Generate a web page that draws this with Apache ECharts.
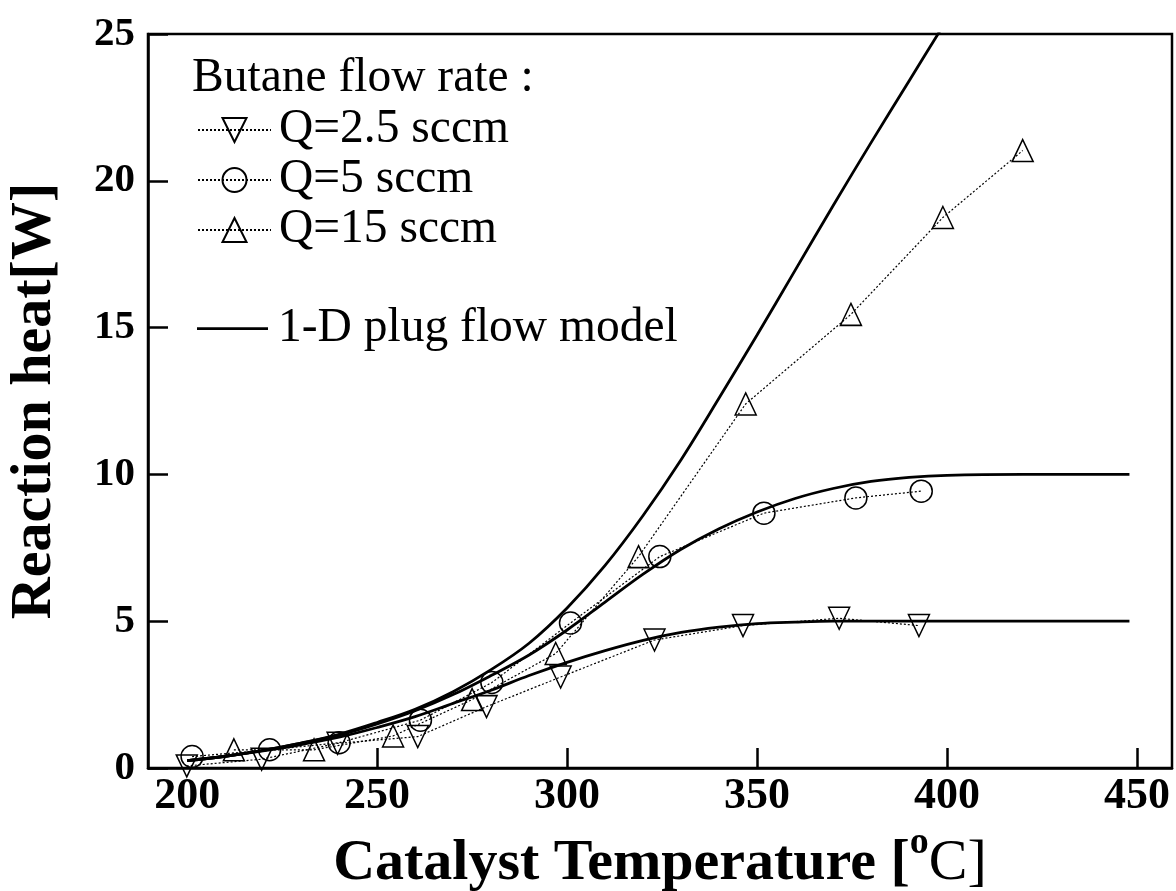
<!DOCTYPE html>
<html><head><meta charset="utf-8">
<script src="https://cdn.jsdelivr.net/npm/echarts@6/dist/echarts.min.js"></script>
<style>html,body{margin:0;padding:0;background:#fff}#c{width:1176px;height:891px}</style>
</head><body><div id="c"></div>
<script>
// Measured data (Catalyst temperature [°C] vs reaction heat [W])
const tempQ25 = [199.9, 219.6, 239.6, 260.7, 278.8, 298.3, 323.0, 346.3, 371.6, 392.6];
const heatQ25 = [0.07, 0.30, 0.84, 1.07, 2.09, 3.10, 4.36, 4.85, 5.10, 4.85];
const tempQ5 = [201.3, 221.7, 240.0, 261.4, 280.2, 300.9, 324.4, 351.8, 376.0, 393.2];
const heatQ5 = [0.39, 0.62, 0.86, 1.63, 2.91, 4.94, 7.20, 8.68, 9.20, 9.43];
const tempQ15 = [212.3, 233.4, 254.2, 275.0, 297.0, 318.8, 347.0, 374.7, 398.9, 419.9];
const heatQ15 = [0.62, 0.62, 1.09, 2.33, 3.90, 7.20, 12.40, 15.45, 18.75, 21.03];
// 1-D plug flow model curves
const modelTemp15 = [200,210,220,230,240,250,260,270,280,290,300,310,320,330,340,350,360,370,380,390,400];
const model15 = [0.25,0.4,0.6,0.85,1.15,1.55,2.0,2.6,3.35,4.25,5.45,6.9,8.6,10.5,12.6,14.75,16.95,19.15,21.3,23.4,25.5];
const modelTemp = [200,210,220,230,240,250,260,270,280,290,300,310,320,330,340,350,360,370,380,390,400,420,448];
const model5 = [0.25,0.4,0.6,0.85,1.12,1.5,1.95,2.5,3.15,3.85,4.7,5.65,6.6,7.45,8.15,8.72,9.18,9.52,9.76,9.9,9.97,10.0,10.0];
const model25 = [0.25,0.4,0.58,0.8,1.05,1.38,1.75,2.2,2.65,3.15,3.6,4.0,4.35,4.62,4.8,4.92,4.97,5.0,5.0,5.0,5.0,5.0,5.0];
// Axis ticks
const xTickLabels = [200, 250, 300, 350, 400, 450];
const xTickMarks = [250, 300, 350, 400, 450];

const FONT = "'Liberation Serif', 'Times New Roman', serif";
const zip = (a, b) => a.map((v, i) => [v, b[i]]);

const dotted = {color: '#000', width: 1.2, type: [2, 2]};
const hollow = {color: 'rgba(0,0,0,0)', borderColor: '#000', borderWidth: 1.5};
const modelStyle = {color: '#000', width: 2.8, type: 'solid'};

function dataSeries(name, t, h, symbol, rotate) {
  return {
    name, type: 'line', data: zip(t, h), symbol, symbolRotate: rotate,
    symbolSize: symbol === 'circle' ? 22 : [21, 22],
    lineStyle: dotted, itemStyle: hollow, z: 3, animation: false
  };
}
function modelSeries(t, h) {
  return {
    name: '1-D plug flow model', type: 'line', data: zip(t, h),
    showSymbol: false, symbol: 'none', smooth: 0.35,
    lineStyle: modelStyle, itemStyle: {color: '#000'}, z: 2, animation: false
  };
}

const chart = echarts.init(document.getElementById('c'));
chart.setOption({
  backgroundColor: '#fff',
  animation: false,
  grid: {left: 148, right: 4, top: 34, bottom: 123, containLabel: false, outerBoundsMode: 'none',
         show: true, borderColor: '#000', borderWidth: 2.5, backgroundColor: 'transparent'},
  xAxis: {
    type: 'value', min: 189.7, max: 459.2,
    axisLine: {lineStyle: {color: '#000', width: 2.5}},
    axisTick: {inside: true, length: 20, lineStyle: {color: '#000', width: 2.5}, customValues: xTickMarks},
    axisLabel: {customValues: xTickLabels, color: '#000', fontFamily: FONT, fontWeight: 'bold', fontSize: 44, margin: 7},
    splitLine: {show: false},
    name: '{b|Catalyst Temperature [}{s|o}{c|C]}',
    nameLocation: 'middle', nameGap: 47,
    nameTextStyle: {
      rich: {
        b: {fontFamily: FONT, fontWeight: 'bold', fontSize: 58, color: '#000'},
        s: {fontFamily: FONT, fontWeight: 'bold', fontSize: 38, color: '#000', padding: [0, 0, 42, 0]},
        c: {fontFamily: FONT, fontWeight: 'normal', fontSize: 58, color: '#000'}
      }
    }
  },
  yAxis: {
    type: 'value', min: 0, max: 25, interval: 5,
    axisLine: {show: true, lineStyle: {color: '#000', width: 2.5}},
    axisTick: {show: true, inside: true, length: 20, lineStyle: {color: '#000', width: 2.5}},
    axisLabel: {color: '#000', fontFamily: FONT, fontWeight: 'bold', fontSize: 41, margin: 13},
    splitLine: {show: false},
    name: 'Reaction heat[W]', nameLocation: 'middle', nameGap: 84,
    nameTextStyle: {fontFamily: FONT, fontWeight: 'bold', fontSize: 58, color: '#000'}
  },
  legend: [
    {
      data: ['Q=2.5 sccm', 'Q=5 sccm', 'Q=15 sccm'], orient: 'vertical',
      left: 197, top: 106, itemWidth: 73, itemHeight: 30, itemGap: 2, padding: 0,
      selectedMode: false,
      textStyle: {fontFamily: FONT, fontSize: 47.5, color: '#000', lineHeight: 30, padding: [0, 0, 11, 3]}
    },
    {
      data: [{name: '1-D plug flow model', icon: 'rect'}], orient: 'vertical',
      left: 197, top: 304.6, itemWidth: 71, itemHeight: 2.8, padding: 0,
      selectedMode: false,
      textStyle: {fontFamily: FONT, fontSize: 47.5, color: '#000', lineHeight: 30, padding: [0, 0, 18, 5]}
    }
  ],
  graphic: [{
    type: 'text', left: 192, top: 55,
    style: {text: 'Butane flow rate :', font: '47.5px ' + FONT, fill: '#000'}
  }],
  series: [
    modelSeries(modelTemp15, model15),
    modelSeries(modelTemp, model5),
    modelSeries(modelTemp, model25),
    dataSeries('Q=2.5 sccm', tempQ25, heatQ25, 'triangle', 180),
    dataSeries('Q=5 sccm', tempQ5, heatQ5, 'circle', 0),
    dataSeries('Q=15 sccm', tempQ15, heatQ15, 'triangle', 0)
  ]
});
</script>
</body></html>
